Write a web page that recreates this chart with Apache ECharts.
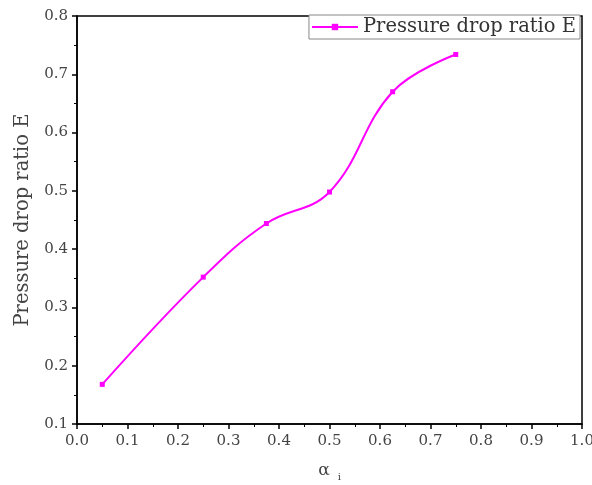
<!DOCTYPE html>
<html><head><meta charset="utf-8">
<script src="https://cdn.jsdelivr.net/npm/echarts@6/dist/echarts.min.js"></script>
<style>html,body{margin:0;padding:0;background:#fff}#c{width:592px;height:485px}</style>
</head><body><div id="c"></div>
<script>
const xValues = [0.05, 0.25, 0.375, 0.5, 0.625, 0.75];
const eValues = [0.168, 0.352, 0.444, 0.498, 0.670, 0.734];
const seriesName = 'Pressure drop ratio E';
const xAxisName = 'α';
const yAxisName = 'Pressure drop ratio E';

const FONT = '"DejaVu Serif", "Liberation Serif", serif';
const chart = echarts.init(document.getElementById('c'));
chart.setOption({
  animation: false,
  backgroundColor: '#fff',
  grid: {left: 77, right: 10, top: 16, bottom: 61, show: true, borderColor: '#000', borderWidth: 1.5,
         containLabel: false, outerBoundsMode: 'none'},
  legend: {
    data: [seriesName], right: 12, top: 15, orient: 'horizontal',
    backgroundColor: '#fff', borderColor: '#888', borderWidth: 1, borderRadius: 0,
    padding: [2, 4, 2, 2], itemWidth: 46, itemHeight: 8, itemGap: 10,
    textStyle: {fontFamily: FONT, fontSize: 19.5, color: '#333'}
  },
  xAxis: {
    type: 'value', min: 0, max: 1, interval: 0.1,
    name: xAxisName + '{s|i}', nameLocation: 'middle', nameGap: 36,
    nameTextStyle: {fontFamily: FONT, fontSize: 17, color: '#444', rich: {s: {fontSize: 10, verticalAlign: 'bottom', padding: [12, 0, 0, 8], fontFamily: FONT, color: '#444'}}},
    axisLine: {lineStyle: {color: '#000', width: 1.5}},
    axisTick: {inside: false, length: 5, lineStyle: {color: '#000', width: 1.5}},
    minorTick: {show: true, splitNumber: 2, length: 3, lineStyle: {color: '#000', width: 1}},
    splitLine: {show: false},
    axisLabel: {fontFamily: FONT, fontSize: 15, color: '#444', margin: 10, formatter: v => v.toFixed(1)}
  },
  yAxis: {
    type: 'value', min: 0.1, max: 0.8, interval: 0.1,
    name: yAxisName, nameLocation: 'middle', nameGap: 41,
    nameTextStyle: {fontFamily: FONT, fontSize: 19.5, color: '#444'},
    axisLine: {lineStyle: {color: '#000', width: 1.5}},
    axisTick: {inside: false, length: 5, lineStyle: {color: '#000', width: 1.5}},
    minorTick: {show: true, splitNumber: 2, length: 3, lineStyle: {color: '#000', width: 1}},
    splitLine: {show: false},
    axisLabel: {fontFamily: FONT, fontSize: 15, color: '#444', margin: 9, formatter: v => v.toFixed(1)}
  },
  series: [{
    name: seriesName, type: 'line', smooth: 0.4,
    data: xValues.map((x, i) => [x, eValues[i]]),
    symbol: 'rect', symbolSize: 5,
    lineStyle: {color: '#ff00ff', width: 2},
    itemStyle: {color: '#ff00ff'}
  }]
});
</script></body></html>
